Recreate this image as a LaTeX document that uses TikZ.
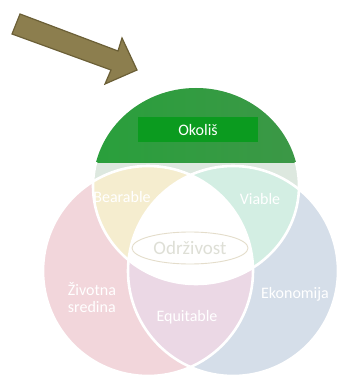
\documentclass[tikz,border=0pt]{standalone}
\usepackage{fontspec}
\setmainfont{Carlito}
\usetikzlibrary{shapes.geometric}

\definecolor{capgreenA}{HTML}{28A03B}
\definecolor{capgreenB}{HTML}{3D9747}
\definecolor{boxgreen}{HTML}{0B9B1F}
\definecolor{topfill}{HTML}{DDE8DF}
\definecolor{pinkfill}{HTML}{F2D6DB}
\definecolor{bluefill}{HTML}{D5DEE9}
\definecolor{yellowfill}{HTML}{F5EDCF}
\definecolor{tealfill}{HTML}{D3EEE3}
\definecolor{purplefill}{HTML}{EBD8E5}
\definecolor{ringtext}{HTML}{DEDFD6}
\definecolor{ringline}{HTML}{E4DDCB}
\definecolor{arrowfill}{HTML}{8C7E4E}
\definecolor{arrowline}{HTML}{6B5F36}

% the three sets
\def\topring{(196,186) ellipse [x radius=103pt, y radius=98pt]}
\def\leftring{(148,271) circle [radius=105pt]}
\def\rightring{(233,271) circle [radius=105pt]}

\tikzset{
  setlabel/.style={text=white, font=\fontsize{16}{17}\selectfont, inner sep=1pt},
  edge/.style={draw=white, line width=2.6pt}
}

\begin{document}
\begin{tikzpicture}[x=1pt, y=-1pt]
    \useasboundingbox (0,0) rectangle (349,382);

    % Draw the big arrow
    \filldraw[fill=arrowfill, draw=arrowline, line width=1.2pt, line join=miter]
        (20,14) -- (118,51) -- (122,38) -- (137,70) -- (105,84) -- (111,70) -- (12,34) -- cycle;

    % Fill the sets
    \fill[topfill] \topring;
    \fill[pinkfill] \leftring;
    \fill[bluefill] \rightring;

    % Green cap of the top set
    \begin{scope}
        \clip \topring;
        \shade[left color=capgreenA, right color=capgreenB] (80,80) rectangle (310,162);
    \end{scope}

    % Overlaps
    \begin{scope}
        \clip \leftring;
        \fill[yellowfill] \topring;
        \fill[purplefill] \rightring;
    \end{scope}
    \begin{scope}
        \clip \rightring;
        \fill[tealfill] \topring;
    \end{scope}
    \begin{scope}
        \clip \leftring;
        \clip \rightring;
        \fill[white] \topring;
    \end{scope}

    % White borders between the parts
    \begin{scope}
        \clip (0,162) rectangle (349,382);
        \path[edge] \topring;
    \end{scope}
    \path[edge] \leftring;
    \path[edge] \rightring;

    % Title box
    \node[fill=boxgreen, minimum width=120pt, minimum height=25pt, text=white,
          font=\fontsize{16}{17}\selectfont] (okolis) at (198,130) {Okoliš};

    % Centre
    \node[draw=ringline, line width=0.9pt, ellipse, minimum width=116pt, minimum height=32pt,
          inner sep=0pt, text=ringtext, font=\fontsize{19}{20}\selectfont] (odrzivost) at (190,248) {Održivost};

    % Labels of the parts
    \foreach \name/\pos/\txt in {bearable/{(122,197)}/Bearable, viable/{(260,199)}/Viable,
                                 equitable/{(187,317)}/Equitable, ekonomija/{(295,294)}/Ekonomija} {
        \node[setlabel] (\name) at \pos {\txt};
    };
    \node[setlabel, align=left] (zivotna) at (92,298) {Životna\\sredina};
\end{tikzpicture}
\end{document}
